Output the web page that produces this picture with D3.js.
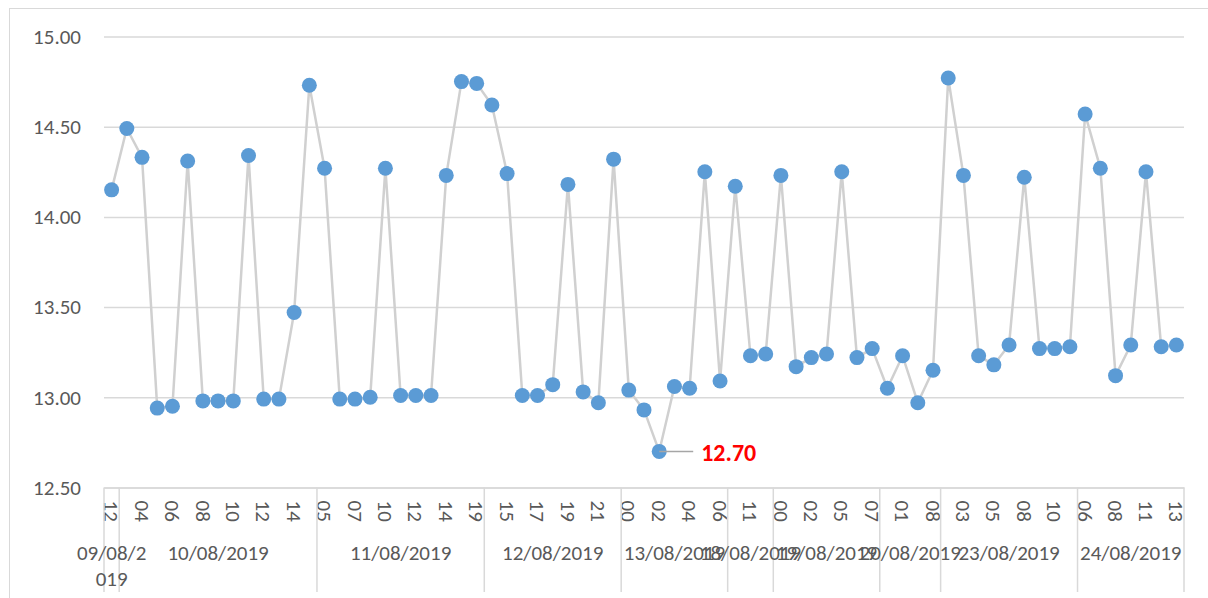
<!DOCTYPE html>
<html>
<head>
<meta charset="utf-8">
<script src="https://cdn.jsdelivr.net/npm/d3@7"></script>
<style>
  html, body { margin: 0; padding: 0; background: #fff; }
  svg { display: block; }
  text { font-family: Carlito, "Liberation Sans", Arial, sans-serif; }
</style>
</head>
<body>
<svg id="chart" width="1208" height="598"></svg>
<script>
// ---- data ----
const dates = [
  "09/08/2019",
  "10/08/2019","10/08/2019","10/08/2019","10/08/2019","10/08/2019","10/08/2019","10/08/2019",
  "10/08/2019","10/08/2019","10/08/2019","10/08/2019","10/08/2019","10/08/2019",
  "11/08/2019","11/08/2019","11/08/2019","11/08/2019","11/08/2019","11/08/2019","11/08/2019",
  "11/08/2019","11/08/2019","11/08/2019","11/08/2019",
  "12/08/2019","12/08/2019","12/08/2019","12/08/2019","12/08/2019","12/08/2019","12/08/2019",
  "12/08/2019","12/08/2019",
  "13/08/2019","13/08/2019","13/08/2019","13/08/2019","13/08/2019","13/08/2019","13/08/2019",
  "18/08/2019","18/08/2019","18/08/2019",
  "19/08/2019","19/08/2019","19/08/2019","19/08/2019","19/08/2019","19/08/2019","19/08/2019",
  "20/08/2019","20/08/2019","20/08/2019","20/08/2019",
  "23/08/2019","23/08/2019","23/08/2019","23/08/2019","23/08/2019","23/08/2019","23/08/2019",
  "23/08/2019","23/08/2019",
  "24/08/2019","24/08/2019","24/08/2019","24/08/2019","24/08/2019","24/08/2019","24/08/2019"
];
const hours = [
  "12",
  "03","04","05","06","07","08","09","10","11","12","13","14","15",
  "05","06","07","09","10","11","12","13","14","17","19",
  "14","15","16","17","18","19","20","21","22",
  "00","01","02","03","04","05","06",
  "10","11","12",
  "00","01","02","04","05","06","07",
  "00","01","07","08",
  "02","03","04","05","07","08","09","10","11",
  "06","07","08","10","11","12","13"
];
const values = [
  14.15,
  14.49,14.33,12.94,12.95,14.31,12.98,12.98,12.98,14.34,12.99,12.99,13.47,14.73,
  14.27,12.99,12.99,13.00,14.27,13.01,13.01,13.01,14.23,14.75,14.74,
  14.62,14.24,13.01,13.01,13.07,14.18,13.03,12.97,14.32,
  13.04,12.93,12.70,13.06,13.05,14.25,13.09,
  14.17,13.23,13.24,
  14.23,13.17,13.22,13.24,14.25,13.22,13.27,
  13.05,13.23,12.97,13.15,
  14.77,14.23,13.23,13.18,13.29,14.22,13.27,13.27,13.28,
  14.57,14.27,13.12,13.29,14.25,13.28,13.29
];
const yTicks = [12.5, 13.0, 13.5, 14.0, 14.5, 15.0];
const annotatedIndex = 36; // minimum value, labelled

// ---- layout ----
const svg = d3.select("#chart");
const plotLeft = 104, plotRight = 1184, plotTop = 36.5, plotBottom = 487.5;
const gridColor = "#d9d9d9", textColor = "#595959";

// outer chart border
svg.append("rect").attr("x", 9.5).attr("y", 8.5).attr("width", 1210).attr("height", 600)
  .attr("fill", "none").attr("stroke", "#d9d9d9").attr("stroke-width", 1);

const idx = d3.range(values.length);
const x = d3.scaleBand().domain(idx).range([plotLeft, plotRight]).padding(0);
const cx = i => x(i) + x.bandwidth() / 2;
const y = d3.scaleLinear().domain([12.5, 15]).range([plotBottom, plotTop]);

// y axis with gridlines
const yAxis = svg.append("g").attr("transform", `translate(${plotLeft},0)`)
  .call(d3.axisLeft(y).tickValues(yTicks).tickFormat(d3.format(".2f"))
    .tickSize(-(plotRight - plotLeft)).tickPadding(23));
yAxis.select(".domain").remove();
yAxis.selectAll(".tick line").attr("stroke", gridColor).attr("stroke-width", 1.5);
yAxis.selectAll(".tick text").attr("fill", textColor).style("font-size", "21px");

// x axis (hour labels every other category)
const xAxis = svg.append("g").attr("transform", `translate(0,${plotBottom})`)
  .call(d3.axisBottom(x).tickValues(idx.filter(i => i % 2 === 0))
    .tickFormat(i => hours[i]).tickSize(0).tickPadding(0));
xAxis.select(".domain").attr("stroke", gridColor).attr("stroke-width", 1.5);
xAxis.selectAll(".tick text")
  .attr("fill", textColor).style("font-size", "21px")
  .attr("text-anchor", "start")
  .attr("transform", "translate(0,13) rotate(90)")
  .attr("x", 0).attr("y", 0).attr("dy", "0.35em");

// date groups
const groups = [];
dates.forEach((d, i) => {
  const g = groups[groups.length - 1];
  if (g && g.date === d) g.end = i; else groups.push({ date: d, start: i, end: i });
});
const sepY2 = 592;
const boundaries = [0].concat(groups.map(g => g.end + 1));
svg.append("g").selectAll("line").data(boundaries).join("line")
  .attr("x1", b => b < values.length ? x(b) : plotRight)
  .attr("x2", b => b < values.length ? x(b) : plotRight)
  .attr("y1", plotBottom).attr("y2", sepY2)
  .attr("stroke", gridColor).attr("stroke-width", 1.5);

const dateG = svg.append("g");
groups.forEach(g => {
  const cxg = (x(g.start) + x(g.end) + x.bandwidth()) / 2;
  const t = dateG.append("text").attr("x", cxg).attr("y", 560)
    .attr("text-anchor", "middle").attr("fill", textColor).style("font-size", "21px");
  if (g.end === g.start) {
    // narrow group: wrap the text over two lines
    const maxW = 72;
    const chars = g.date.split("");
    const lines = [""];
    const probe = dateG.append("text").style("font-size", "21px");
    chars.forEach(c => {
      const trial = lines[lines.length - 1] + c;
      probe.text(trial);
      if (probe.node().getComputedTextLength() > maxW) lines.push(c);
      else lines[lines.length - 1] = trial;
    });
    probe.remove();
    lines.forEach((ln, k) => {
      t.append("tspan").attr("x", cxg).attr("dy", k === 0 ? 0 : 26).text(ln);
    });
  } else {
    t.text(g.date);
  }
});

// line
svg.append("path").datum(values)
  .attr("fill", "none").attr("stroke", "#d0d0d0").attr("stroke-width", 2.5)
  .attr("stroke-linejoin", "round")
  .attr("d", d3.line().x((d, i) => cx(i)).y(d => y(d)));

// markers
svg.append("g").selectAll("circle").data(values).join("circle")
  .attr("cx", (d, i) => cx(i)).attr("cy", d => y(d)).attr("r", 7.5)
  .attr("fill", "#5b9bd5");

// annotation of minimum
const ax = cx(annotatedIndex), ay = y(values[annotatedIndex]);
svg.append("line").attr("x1", ax).attr("y1", ay).attr("x2", ax + 34).attr("y2", ay)
  .attr("stroke", "#a6a6a6").attr("stroke-width", 1.5);
svg.append("text").attr("x", ax + 42).attr("y", ay + 1).attr("dy", "0.36em")
  .attr("fill", "#ff0000").style("font-size", "24px").style("font-weight", "bold")
  .text(d3.format(".2f")(values[annotatedIndex]));
</script>
</body>
</html>
